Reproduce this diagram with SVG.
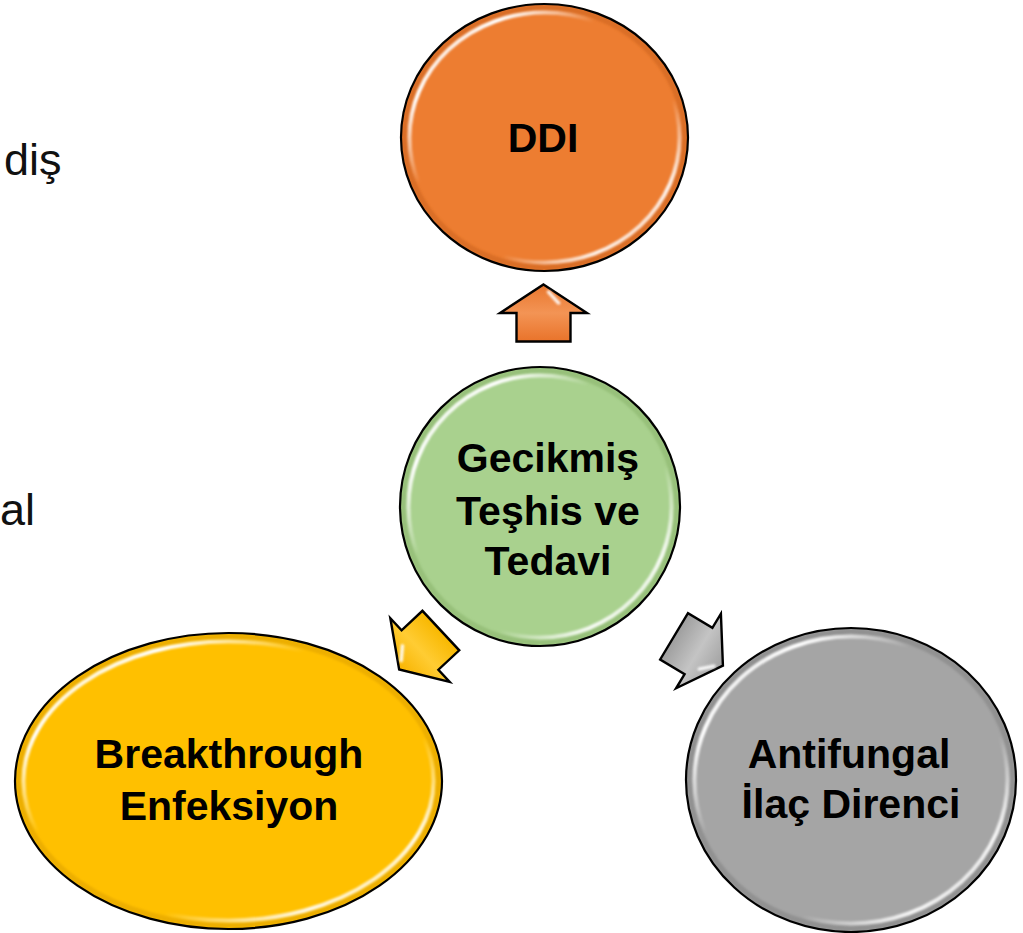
<svg xmlns="http://www.w3.org/2000/svg" width="1023" height="933" viewBox="0 0 1023 933">
  <defs>
    <style>
      .lbl { font-family: "Liberation Sans", Arial, sans-serif; font-weight: bold; font-size: 41px; fill: #000; text-anchor: middle; }
      .side { font-family: "Liberation Sans", Arial, sans-serif; font-size: 45px; fill: #111; }
      .rim { fill: none; stroke: #000; stroke-width: 2.2; }
      .gloss { fill: none; stroke: url(#glossGrad); stroke-width: 4; filter: url(#soft); }
      .shade { fill: none; stroke-width: 6; filter: url(#soft); opacity: 0.5; }
      .arrow { stroke: #000; stroke-width: 2.4; stroke-linejoin: miter; }
      .spark { fill: none; stroke: #fff; stroke-width: 3.5; stroke-linecap: round; filter: url(#soft1); opacity: 0.9; }
    </style>
    <!-- glossy rim highlight: bright at upper-left and lower-right -->
    <linearGradient id="glossGrad" x1="0" y1="0" x2="1" y2="1">
      <stop offset="0" stop-color="#fff" stop-opacity="0"/>
      <stop offset="0.1" stop-color="#fff" stop-opacity="0.7"/>
      <stop offset="0.18" stop-color="#fff" stop-opacity="1"/>
      <stop offset="0.36" stop-color="#fff" stop-opacity="0"/>
      <stop offset="0.66" stop-color="#fff" stop-opacity="0"/>
      <stop offset="0.83" stop-color="#fff" stop-opacity="0.9"/>
      <stop offset="1" stop-color="#fff" stop-opacity="0"/>
    </linearGradient>
    <filter id="soft" x="-10%" y="-10%" width="120%" height="120%">
      <feGaussianBlur stdDeviation="1.3"/>
    </filter>
    <filter id="soft1" x="-50%" y="-50%" width="200%" height="200%">
      <feGaussianBlur stdDeviation="1"/>
    </filter>
    <!-- arrow body fills -->
    <linearGradient id="arOrange" x1="0" y1="0" x2="1" y2="0">
      <stop offset="0" stop-color="#E9732A"/>
      <stop offset="0.5" stop-color="#F39455"/>
      <stop offset="1" stop-color="#E9772E"/>
    </linearGradient>
    <linearGradient id="arYellow" x1="0" y1="0" x2="1" y2="0">
      <stop offset="0" stop-color="#F8B800"/>
      <stop offset="0.5" stop-color="#FFCC33"/>
      <stop offset="1" stop-color="#F8B400"/>
    </linearGradient>
    <linearGradient id="arGray" x1="0" y1="0" x2="1" y2="0">
      <stop offset="0" stop-color="#9E9E9E"/>
      <stop offset="0.5" stop-color="#C4C4C4"/>
      <stop offset="1" stop-color="#A0A0A0"/>
    </linearGradient>
    <!-- block arrow pointing along +x, wing line at x=0 -->
    <polygon id="blockArrow" points="28.5,0 0,43.5 0,27 -28.5,27 -28.5,-27 0,-27 0,-43.5"/>
  </defs>

  <rect width="1023" height="933" fill="#fff"/>

  <!-- partial text at the left margin -->
  <text class="side" x="4" y="175">diş</text>
  <text class="side" x="0" y="525">al</text>

  <!-- connectors: block arrows from the centre node -->
  <g id="connectors">
    <g transform="translate(543.5,313) rotate(-90)">
      <use href="#blockArrow" class="arrow" fill="url(#arOrange)"/>
      <path class="spark" d="M21,5 L10,15"/>
      <path class="spark" d="M-17,-15 L-17,15"/>
    </g>
    <g transform="translate(420,650) rotate(137)">
      <use href="#blockArrow" class="arrow" fill="url(#arYellow)"/>
      <path class="spark" d="M21,5 L10,15"/>
      <path class="spark" d="M-17,-15 L-17,15"/>
      <path class="spark" d="M-3,-22 L-20,-22" opacity="0.7"/>
    </g>
    <g transform="translate(698.5,651) rotate(31)">
      <use href="#blockArrow" class="arrow" fill="url(#arGray)"/>
      <path class="spark" d="M21,5 L10,15"/>
      <path class="spark" d="M-17,-15 L-17,15"/>
    </g>
  </g>

  <!-- top node -->
  <g id="node-ddi">
    <ellipse cx="544.5" cy="137.5" rx="143.5" ry="133.5" fill="#ED7D31"/>
    <ellipse cx="544.5" cy="137.5" rx="140" ry="130" class="shade" stroke="#C8601C"/>
    <ellipse cx="544.5" cy="137.5" rx="135" ry="125" class="gloss"/>
    <ellipse cx="544.5" cy="137.5" rx="143.5" ry="133.5" class="rim"/>
    <text class="lbl" x="543" y="152">DDI</text>
  </g>

  <!-- centre node -->
  <g id="node-center">
    <ellipse cx="540" cy="506.5" rx="140" ry="139.5" fill="#A9D18E"/>
    <ellipse cx="540" cy="506.5" rx="136.5" ry="136" class="shade" stroke="#86B067"/>
    <ellipse cx="540" cy="506.5" rx="131.5" ry="131" class="gloss"/>
    <ellipse cx="540" cy="506.5" rx="140" ry="139.5" class="rim"/>
    <text class="lbl" x="548" y="472">Gecikmiş</text>
    <text class="lbl" x="548" y="525">Teşhis ve</text>
    <text class="lbl" x="548" y="575">Tedavi</text>
  </g>

  <!-- lower-left node -->
  <g id="node-breakthrough">
    <ellipse cx="228.5" cy="781" rx="213.5" ry="148" fill="#FFC000"/>
    <ellipse cx="228.5" cy="781" rx="210" ry="144.5" class="shade" stroke="#DB9E00"/>
    <ellipse cx="228.5" cy="781" rx="205" ry="139.5" class="gloss"/>
    <ellipse cx="228.5" cy="781" rx="213.5" ry="148" class="rim"/>
    <text class="lbl" x="229" y="768">Breakthrough</text>
    <text class="lbl" x="229" y="820">Enfeksiyon</text>
  </g>

  <!-- lower-right node -->
  <g id="node-resistance">
    <ellipse cx="851" cy="780" rx="165" ry="152" fill="#A5A5A5"/>
    <ellipse cx="851" cy="780" rx="161.5" ry="148.5" class="shade" stroke="#7E7E7E"/>
    <ellipse cx="851" cy="780" rx="156.5" ry="143.5" class="gloss"/>
    <ellipse cx="851" cy="780" rx="165" ry="152" class="rim"/>
    <text class="lbl" x="849" y="768">Antifungal</text>
    <text class="lbl" x="851" y="818">İlaç Direnci</text>
  </g>
</svg>
